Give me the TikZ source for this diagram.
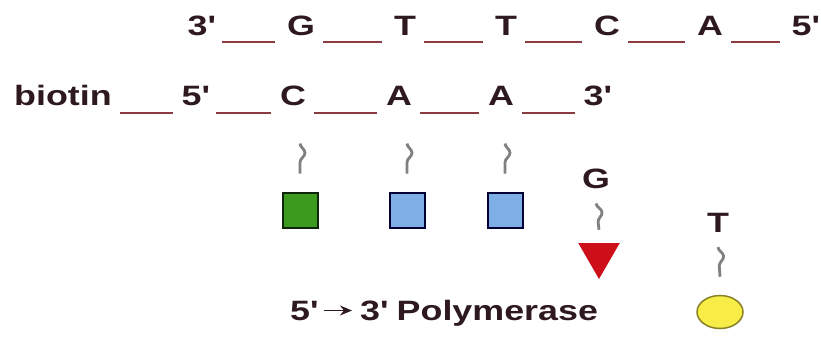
\documentclass[tikz,border=0pt]{standalone}
\usepackage{fontspec}
\setmainfont{Liberation Sans}[FakeStretch=1.28]
\usepackage{tikz}
\usetikzlibrary{shapes.geometric, decorations.pathmorphing, arrows.meta}

\definecolor{tinta}{RGB}{45,25,30}
\definecolor{fita}{RGB}{140,60,65}
\definecolor{verde}{RGB}{60,155,30}
\definecolor{azul}{RGB}{125,175,230}
\definecolor{vermelho}{RGB}{205,15,25}
\definecolor{amarelo}{RGB}{248,236,70}

\newcommand{\lin}{\textquotesingle}

\tikzset{
  base/.style={anchor=base, inner sep=0pt, text=tinta, font=\fontsize{28}{30}\selectfont\bfseries},
  bond/.style={draw=fita, line width=2.6pt},
  squig/.style={draw=gray, line width=2.8pt, decorate,
    decoration={snake, amplitude=5pt, segment length=30pt}},
  caixa/.style={rectangle, minimum size=35pt, inner sep=0pt, line width=2pt}
}

\begin{document}
\begin{tikzpicture}[x=1pt, y=-1pt]
			\useasboundingbox (0,0) rectangle (821,340);
			% fita molde
			\node[base] (t1) at (201,35) {3\lin};
			\node[base] (t2) at (301,35) {G};
			\node[base] (t3) at (405,35) {T};
			\node[base] (t4) at (506,35) {T};
			\node[base] (t5) at (607,35) {C};
			\node[base] (t6) at (710,35) {A};
			\node[base] (t7) at (805,35) {5\lin};
			\foreach \a/\b in {t1/t2, t2/t3, t3/t4, t4/t5, t5/t6, t6/t7} {
					\draw[bond] ([shift={(8pt,-7pt)}]\a.base east) -- ([shift={(-12pt,-7pt)}]\b.base west);
				}
			% primer
			\node[base] (p0) at (63,105) {biotin};
			\node[base] (p1) at (195,105) {5\lin};
			\node[base] (p2) at (293,105) {C};
			\node[base] (p3) at (399,105) {A};
			\node[base] (p4) at (501,105) {A};
			\node[base] (p5) at (597,105) {3\lin};
			\foreach \a/\b in {p0/p1, p1/p2, p2/p3, p3/p4, p4/p5} {
					\draw[bond] ([shift={(8pt,-8pt)}]\a.base east) -- ([shift={(-9pt,-8pt)}]\b.base west);
				}
			% nucleotídeos
			\node[caixa, fill=verde, draw=black!75!verde] (n1) at (300,210) {};
			\node[caixa, fill=azul, draw=black!80!blue] (n2) at (407,210) {};
			\node[caixa, fill=azul, draw=black!80!blue] (n3) at (505,210) {};
			\foreach \n in {n1, n2, n3} {
					\coordinate (\n top) at ([yshift=48pt]\n.north);
					\draw[squig] (\n top) -- ([yshift=18pt]\n.north);
				}
			\node[base] (lg) at (596,188) {G};
			\node[regular polygon, regular polygon sides=3, shape border rotate=180,
				minimum size=48pt, inner sep=0pt, fill=vermelho] (tri) at (599,255) {};
			\draw[squig] ([yshift=-15pt]lg.south) -- ([yshift=13pt]tri.north);
			\node[base] (lt) at (718,232) {T};
			\node[ellipse, minimum width=46pt, minimum height=33pt, inner sep=0pt,
				fill=amarelo, draw=black!45!amarelo, line width=1.5pt] (bola) at (720,312) {};
			\draw[squig] ([yshift=-15pt]lt.south) -- ([yshift=18pt]bola.north);
			% polimerase
			\node[base, anchor=base west] (q5) at (290,320) {5\lin};
			\node[base, anchor=base west] (pol) at (360,320) {3\lin{} Polymerase};
			\draw[tinta, line width=1.8pt, -{Stealth[length=12pt, width=10pt]}]
				([xshift=7pt]q5.east) -- ([xshift=-8pt]q5.east -| pol.west);
		\end{tikzpicture}
\end{document}
